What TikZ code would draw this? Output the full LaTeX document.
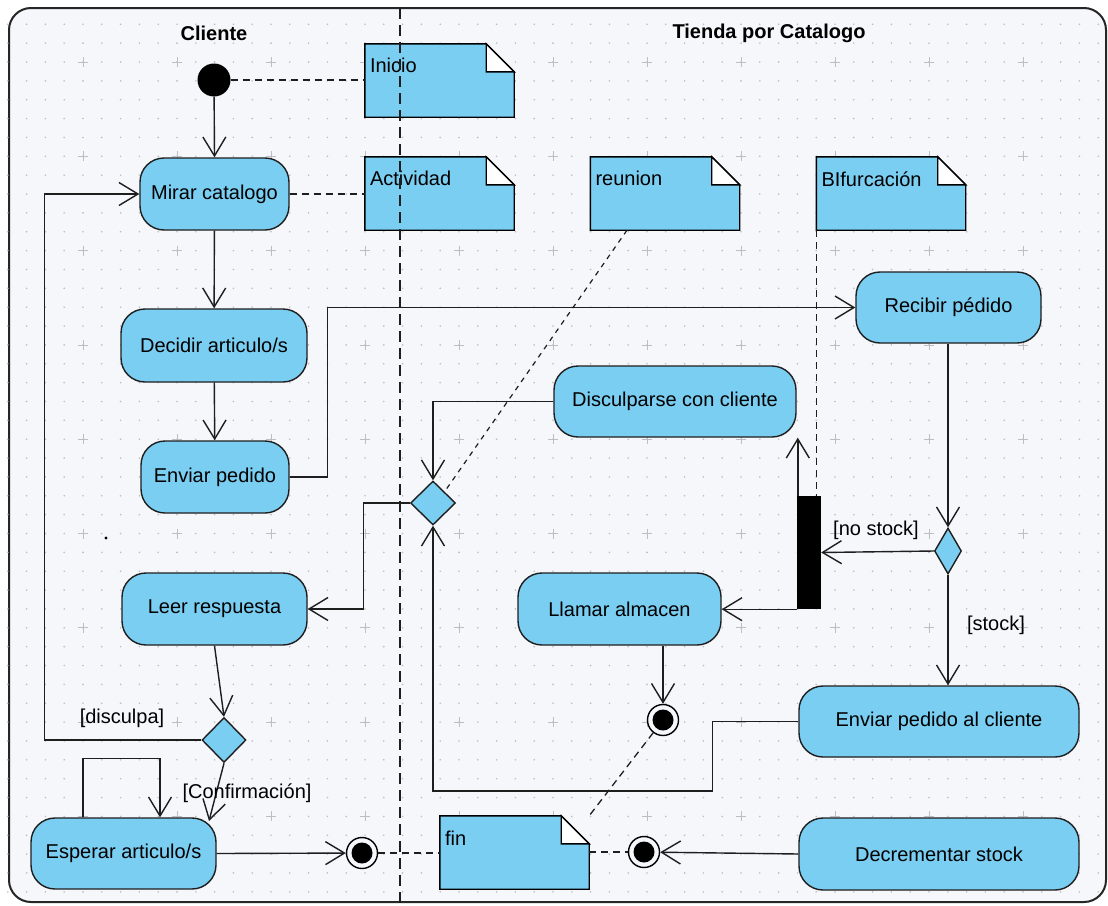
\documentclass[tikz,border=0pt]{standalone}
\usepackage{fontspec}
\setmainfont{Liberation Sans}
\usetikzlibrary{arrows.meta,shapes.geometric,calc}
\definecolor{nodeblue}{RGB}{122,206,242}
\definecolor{bgc}{RGB}{246,247,251}
\definecolor{dotc}{RGB}{188,190,198}
\definecolor{linec}{RGB}{30,30,30}
\newcommand{\nf}{\fontsize{20}{24}\selectfont}
\newcommand{\umlnote}[4]{%
  \node[notebody] (#1) at (#2,#3) {};
  \filldraw[notefill] (#1.north west) -- ([xshift=-28pt]#1.north east) -- ([yshift=-28pt]#1.north east) -- (#1.south east) -- (#1.south west) -- cycle;
  \filldraw[fill=white, draw=black, line width=1.4pt] ([xshift=-28pt]#1.north east) -- ([xshift=-28pt,yshift=-28pt]#1.north east) -- ([yshift=-28pt]#1.north east) -- cycle;
  \node[notetext] (#1-t) at ([xshift=5pt,yshift=-22pt]#1.north west) {#4};
}
\tikzset{
  act/.style={rectangle, rounded corners=24pt, draw=linec, fill=nodeblue, line width=1.4pt, minimum height=72pt, inner sep=0pt, font=\nf},
  notebody/.style={rectangle, minimum width=149pt, minimum height=73pt, inner sep=0pt},
  notefill/.style={fill=nodeblue, draw=black, line width=1.4pt, line join=miter},
  notetext/.style={anchor=west, inner sep=0pt, font=\nf},
  dec/.style={diamond, draw=linec, fill=nodeblue, line width=1.4pt, inner sep=0pt},
  finalnode/.style={circle, draw=black, fill=bgc, line width=1.4pt, minimum size=31pt, inner sep=0pt,
    path picture={\fill[black] (path picture bounding box.center) circle (10.5pt);}},
  arr/.style={draw=linec, line width=1.4pt, -{Straight Barb[length=19pt,width=23pt]}},
  flow/.style={draw=linec, line width=1.4pt},
  notelink/.style={draw=linec, line width=1.3pt, dash pattern=on 7pt off 5pt},
  lbl/.style={font=\nf, inner sep=0pt},
  title/.style={font=\nf\bfseries, inner sep=0pt}
}
\begin{document}
\begin{tikzpicture}[x=1pt,y=-1pt]
\useasboundingbox (0,0) rectangle (1108,905);
\fill[white] (0,0) rectangle (1108,905);
% frame
\filldraw[fill=bgc, draw=black!85, line width=2pt, rounded corners=22pt] (9,8) rectangle (1106,902);
% grid
\foreach \i in {-4,...,54} {
  \foreach \j in {-2,...,44} {
    \fill[dotc] (83+18.8*\i, 62+18.86*\j) circle (0.9pt);
  }
}
\foreach \i in {0,...,10} {
  \foreach \j in {0,...,8} {
    \draw[dotc, line width=0.8pt] (83+94*\i-5, 62+94.3*\j) -- ++(10,0) (83+94*\i, 62+94.3*\j-5) -- ++(0,10);
  }
}
% titles
\node[title] (tcli) at (214,33) {Cliente};
\node[title] (ttie) at (769,33) {Tienda por Catalogo};
% notes
\umlnote{ninicio}{439.5}{80.5}{Inicio}
\umlnote{nact}{439.5}{193.5}{Actividad}
\umlnote{nreu}{665}{193.5}{reunion}
\umlnote{nbif}{891}{193.5}{BIfurcación}
\umlnote{nfin}{514.5}{852.5}{fin}
% nodes
\node[circle, fill=black, minimum size=33pt, inner sep=0pt] (init) at (214,80) {};
\node[act, minimum width=149pt] (mirar) at (214.5,194) {Mirar catalogo};
\node[act, minimum width=186pt, minimum height=73pt] (decidir) at (214,345.5) {Decidir articulo/s};
\node[act, minimum width=148pt] (enviar) at (215,477) {Enviar pedido};
\node[act, minimum width=185pt] (leer) at (214.5,609) {Leer respuesta};
\node[act, minimum width=185pt, minimum height=71pt] (esperar) at (123.5,853.5) {Esperar articulo/s};
\node[act, minimum width=185pt, minimum height=71pt] (recibir) at (948.5,307.5) {Recibir pédido};
\node[act, minimum width=242pt, minimum height=71pt] (disc) at (675,401.5) {Disculparse con cliente};
\node[act, minimum width=203pt] (llamar) at (619.5,609) {Llamar almacen};
\node[act, minimum width=280pt, minimum height=71pt] (envcli) at (939,721.5) {Enviar pedido al cliente};
\node[act, minimum width=280pt] (decrem) at (939,854) {Decrementar stock};
\node[dec, minimum width=45pt, minimum height=44pt] (merge) at (433,503) {};
\node[dec, minimum width=44pt, minimum height=45pt] (dec2) at (224,740) {};
\node[dec, minimum width=27pt, minimum height=46pt] (dec3) at (948,551) {};
\node[rectangle, fill=black, minimum width=24pt, minimum height=113pt, inner sep=0pt] (bar) at (809,552.5) {};
\node[finalnode] (f1) at (362,853) {};
\node[finalnode] (f2) at (644,852) {};
\node[finalnode] (f3) at (663,720) {};
\coordinate (espin) at (209,821);
% stray dot
\fill[black] (106,538) circle (1.6pt);
% flows
\draw[arr] (init) -- (mirar.north);
\draw[arr] (mirar) -- (decidir);
\draw[arr] (decidir) -- (enviar);
\draw[arr] (enviar.east) -- ++(38,0) |- (recibir.west);
\draw[arr] (recibir.south -| dec3.north) -- (dec3.north);
\draw[arr] (dec3.west) -- (bar.east);
\draw[arr] (dec3.south) -- (dec3.south |- envcli.north);
\draw[arr] ([xshift=1pt]bar.north west) -- ([xshift=1pt]bar.north west |- disc.south);
\draw[arr] (bar.south west) -- (bar.south west -| llamar.east);
\draw[arr] (f3 |- llamar.south) -- (f3);
\draw[arr] (disc.west) -| (merge.north);
\draw[arr] (envcli.west) -- ++(-86,0) -- ++(0,69.5) -| (merge.south);
\draw[arr] (merge.west) -- ++(-46.5,0) |- (leer.east);
\draw[arr] (leer.south) -- (dec2.north);
\draw[arr] (dec2.west) -- ++(-157,0) |- (mirar.west);
\draw[arr] (dec2.south) -- (espin);
\draw[arr] ([xshift=-40.5pt]esperar.north) -- ++(0,-59) -| ([xshift=36.5pt]esperar.north);
\draw[arr] (esperar.east) -- (f1);
\draw[arr] (decrem.west) -- (f2);
% labels
\node[lbl] (lnostock) at (876,530) {[no stock]};
\node[lbl] (lstock) at (996,625) {[stock]};
\node[lbl] (ldisc) at (122,718) {[disculpa]};
\node[lbl] (lconf) at (247,793) {[Confirmación]};
% note links
\draw[notelink] (init) -- (ninicio.west |- init);
\draw[notelink] (mirar.east) -- (nact.west |- mirar.east);
\draw[draw=linec, line width=1.2pt, dash pattern=on 5pt off 5pt] ([xshift=-38pt]nreu.south) -- (merge.north east);
\draw[notelink] (nbif.south west) -- (nbif.south west |- bar.north);
\draw[notelink] (f1) -- (nfin.west |- f1);
\draw[notelink] (nfin.east |- f2) -- (f2);
\draw[notelink] (f3) -- (nfin.north east);
% swimlane divider
\draw[draw=linec, line width=1.6pt, dash pattern=on 11pt off 6pt] (400,8) -- (400,905);
\end{tikzpicture}
\end{document}
